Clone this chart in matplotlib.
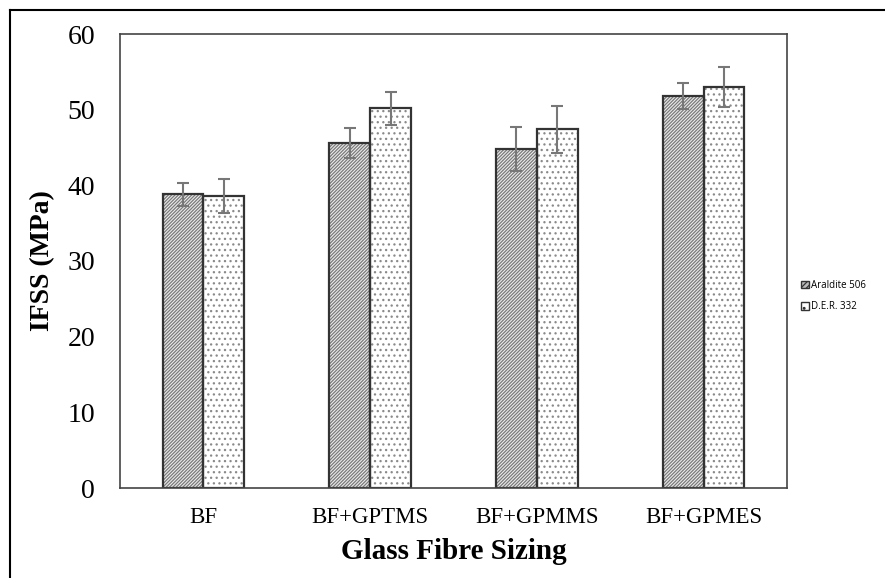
import numpy as np
import matplotlib.pyplot as plt
from matplotlib.lines import Line2D
from matplotlib.patches import Patch

plt.rcParams['hatch.linewidth'] = 0.9

categories = ['BF', 'BF+GPTMS', 'BF+GPMMS', 'BF+GPMES']
araldite = [38.8, 45.6, 44.8, 51.8]
araldite_err = [1.5, 2.0, 2.9, 1.7]
der = [38.6, 50.2, 47.4, 53.0]
der_err = [2.3, 2.2, 3.1, 2.6]
series_names = ['Araldite 506', 'D.E.R. 332']

fig = plt.figure(figsize=(8.85, 5.78), dpi=100)
ax = fig.add_axes([120 / 885, 1 - 488 / 578, 667 / 885, 454 / 578])

x = np.arange(len(categories))
w = 0.245
hatch_a = '//////////'
hatch_d = '...'

# hatched fill first, then dark outline on top
ax.bar(x - w / 2, araldite, w, color='#ececec', edgecolor='#7a7a7a', hatch=hatch_a, linewidth=0)
ax.bar(x + w / 2, der, w, color='white', edgecolor='#8a8a8a', hatch=hatch_d, linewidth=0)
ax.bar(x - w / 2, araldite, w, fill=False, edgecolor='#333333', linewidth=1.6)
ax.bar(x + w / 2, der, w, fill=False, edgecolor='#333333', linewidth=1.6)

ax.errorbar(x - w / 2, araldite, yerr=araldite_err, fmt='none', ecolor='#777777',
            elinewidth=1.5, capsize=4, capthick=1.5)
ax.errorbar(x + w / 2, der, yerr=der_err, fmt='none', ecolor='#777777',
            elinewidth=1.5, capsize=4, capthick=1.5)

ax.set_xlim(-0.5, len(categories) - 0.5)
ax.set_ylim(0, 60)
ax.set_yticks(range(0, 61, 10))
ax.set_xticks(x)
ax.set_xticklabels(categories, family='Liberation Serif', fontsize=16.5)
for lab in ax.get_yticklabels():
    lab.set_family('Liberation Serif')
    lab.set_fontsize(20)
ax.tick_params(axis='y', length=0, pad=18)
ax.tick_params(axis='x', length=0, pad=14)
for s in ax.spines.values():
    s.set_color('#444444')
    s.set_linewidth(1.2)

ax.set_ylabel('IFSS (MPa)', family='Liberation Serif', fontsize=20, fontweight='bold', labelpad=9)
ax.set_xlabel('Glass Fibre Sizing', family='Liberation Serif', fontsize=21, fontweight='bold', labelpad=7)

handles = [Patch(facecolor='#bbbbbb', edgecolor='#333333', hatch='//////', label=series_names[0]),
           Patch(facecolor='white', edgecolor='#333333', hatch='..', label=series_names[1])]
fig.legend(handles=handles, loc='center left', bbox_to_anchor=(797 / 885, 1 - 296 / 578),
           frameon=False, prop={'family': 'Open Sans', 'size': 7}, handlelength=0.8,
           handleheight=0.8, handletextpad=0.2, labelspacing=1.1, borderaxespad=0)

# outer frame lines (top and left)
fig.add_artist(Line2D([10 / 885, 1], [1 - 10 / 578, 1 - 10 / 578], color='black', lw=1.5))
fig.add_artist(Line2D([10 / 885, 10 / 885], [0, 1 - 10 / 578], color='black', lw=1.5))

fig.savefig('out.png', dpi=100)
